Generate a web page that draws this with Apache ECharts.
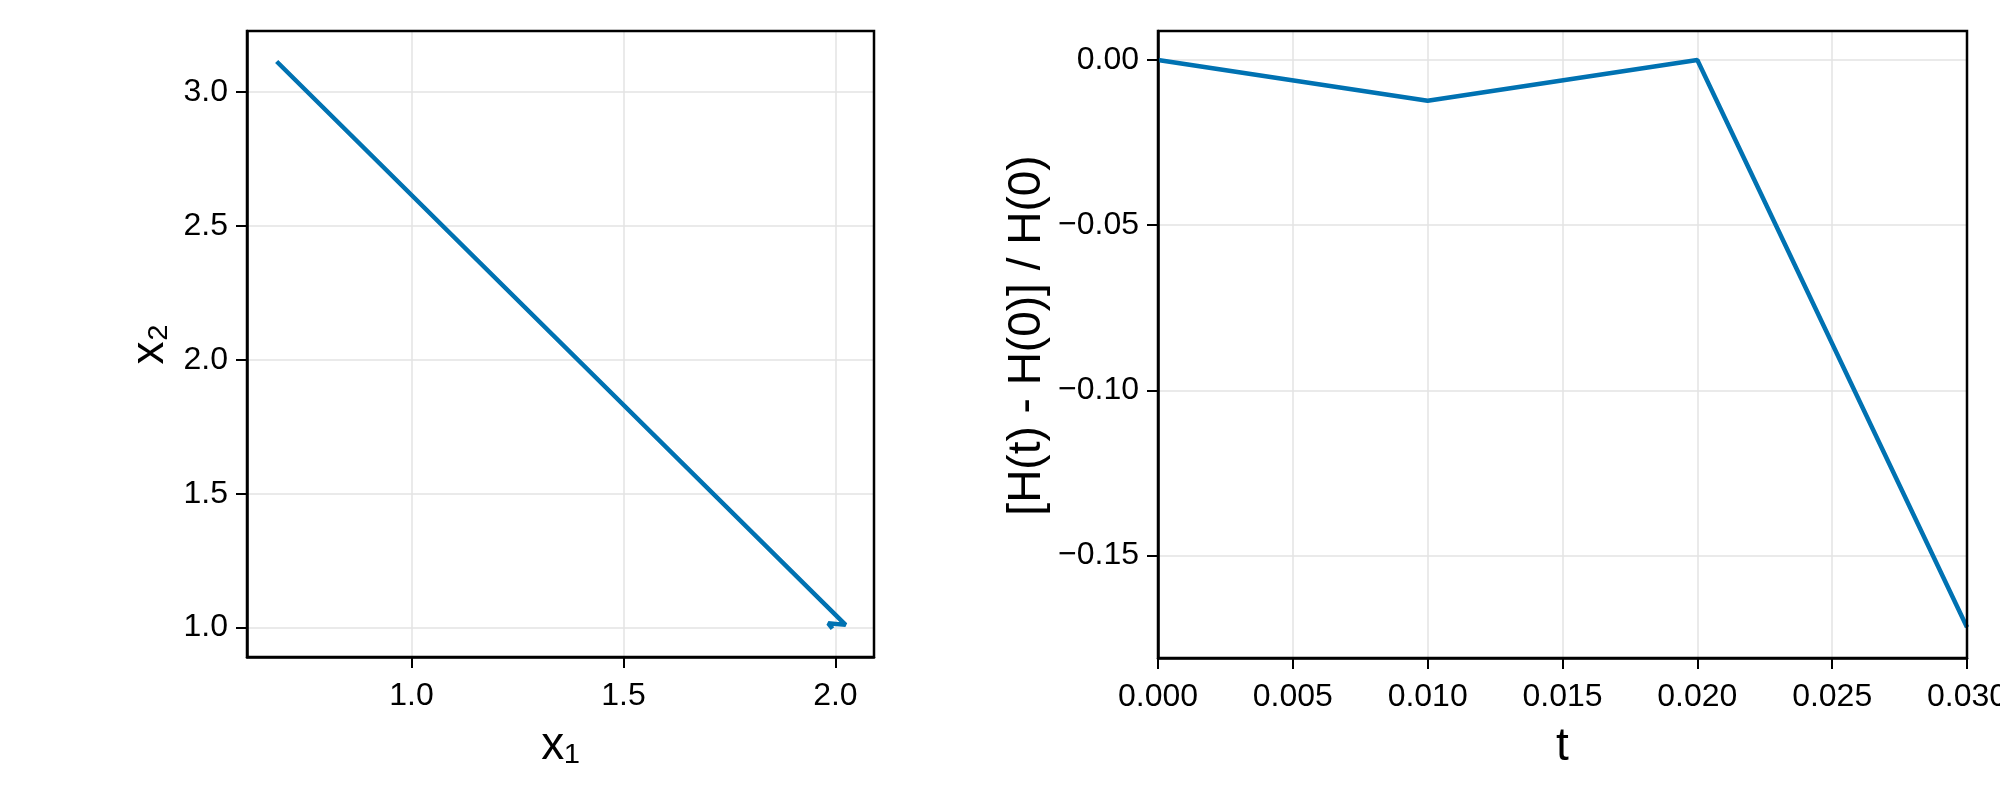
<!DOCTYPE html>
<html>
<head>
<meta charset="utf-8">
<script src="https://cdn.jsdelivr.net/npm/echarts@6/dist/echarts.min.js"></script>
<style>
  html, body { margin: 0; padding: 0; background: #fff; }
  #main { width: 2000px; height: 800px; }
</style>
</head>
<body>
<div id="main"></div>
<script>
// phase plot (x1, x2), one point per step
var x1Vals = [1.993, 1.983, 2.024, 0.682];
var x2Vals = [0.996, 1.016, 1.010, 3.114];
// relative energy error over time
var tVals = [0.000, 0.010, 0.020, 0.030];
var hVals = [0.000, -0.0123, 0.000, -0.1717];

// tick labels
var x1Ticks = [1.0, 1.5, 2.0];
var x2Ticks = [1.0, 1.5, 2.0, 2.5, 3.0];
var tTicks = [0.000, 0.005, 0.010, 0.015, 0.020, 0.025, 0.030];
var hTicks = [-0.15, -0.10, -0.05, 0.00];

var blue = '#0072B2';
var font = '"Liberation Sans", "DejaVu Sans", Arial, sans-serif';

function minus(s){ return s.replace('-', '\u2212'); }

function axis(opts){
  return {
    type: 'value',
    gridIndex: opts.grid,
    min: opts.min,
    max: opts.max,
    name: opts.name,
    nameLocation: 'middle',
    nameGap: opts.nameGap,
    nameTextStyle: { fontFamily: font, fontSize: opts.nameSize, color: '#000', padding: opts.namePad || 0 },
    axisLine: { show: true, onZero: false, lineStyle: { color: '#000', width: 2.5 } },
    axisTick: { show: true, inside: false, length: 11, customValues: opts.ticks,
                lineStyle: { color: '#000', width: 2 } },
    axisLabel: { customValues: opts.ticks, margin: opts.margin, fontFamily: font, fontSize: 32, color: '#000',
                 formatter: function(v){ return minus(v.toFixed(opts.dec)); } },
    splitLine: { show: true, lineStyle: { color: '#e3e3e3', width: 1.5 } }
  };
}

var phase = [];
for (var i = 0; i < x1Vals.length; i++) phase.push([x1Vals[i], x2Vals[i]]);
var energy = [];
for (var j = 0; j < tVals.length; j++) energy.push([tVals[j], hVals[j]]);

var dom = document.getElementById('main');
var myChart = echarts.init(dom);
var option = {
  animation: false,
  backgroundColor: '#fff',
  grid: [
    { left: 247, right: 1126, top: 31, bottom: 143, show: true, z: 5, outerBoundsMode: 'none',
      borderColor: '#000', borderWidth: 2.5 },
    { left: 1158, right: 33, top: 31, bottom: 142, show: true, z: 5, outerBoundsMode: 'none',
      borderColor: '#000', borderWidth: 2.5 }
  ],
  xAxis: [
    axis({ grid: 0, min: 0.612, max: 2.091, ticks: x1Ticks, dec: 1, margin: 23, name: 'x\u2081', nameGap: 66, nameSize: 46 }),
    axis({ grid: 1, min: 0, max: 0.03, ticks: tTicks, dec: 3, margin: 23, name: 't', nameGap: 66, nameSize: 46 })
  ],
  yAxis: [
    axis({ grid: 0, min: 0.89, max: 3.228, ticks: x2Ticks, dec: 1, margin: 19, name: 'x\u2082', nameGap: 74, nameSize: 46 }),
    axis({ grid: 1, min: -0.181, max: 0.0088, ticks: hTicks, dec: 2, margin: 19, name: '[H(t) - H(0)] / H(0)', nameGap: 108, nameSize: 46,
           namePad: [0, 0, 0, 18] })
  ],
  series: [
    { type: 'line', xAxisIndex: 0, yAxisIndex: 0, data: phase, showSymbol: false,
      lineStyle: { color: blue, width: 4.5 }, clip: true },
    { type: 'line', xAxisIndex: 1, yAxisIndex: 1, data: energy, showSymbol: false,
      lineStyle: { color: blue, width: 4.5 }, clip: true }
  ]
};
myChart.setOption(option, true);
</script>
</body>
</html>
